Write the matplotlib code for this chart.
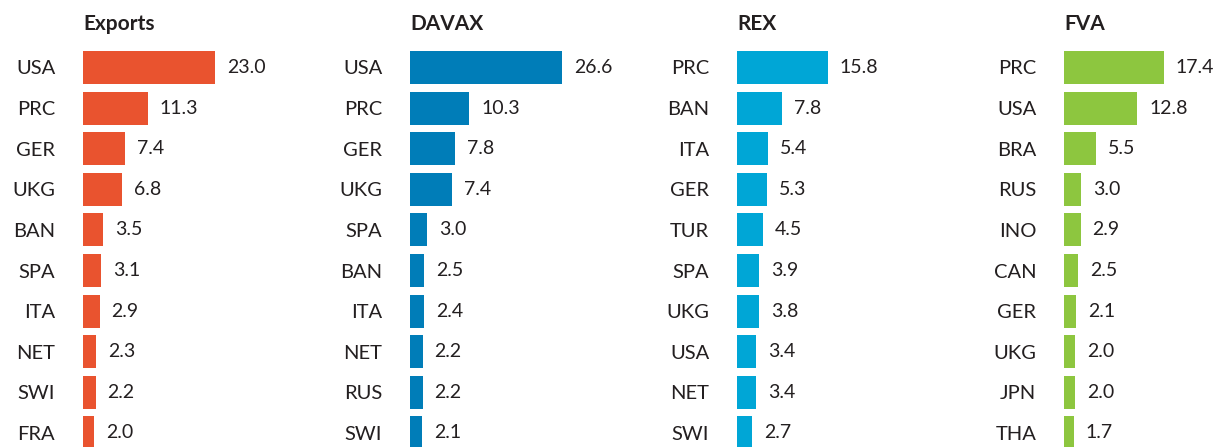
import matplotlib.pyplot as plt

plt.rcParams['font.family'] = ['Lato', 'DejaVu Sans']

titles = ['Exports', 'DAVAX', 'REX', 'FVA']

exports_cats = ['USA', 'PRC', 'GER', 'UKG', 'BAN', 'SPA', 'ITA', 'NET', 'SWI', 'FRA']
exports_vals = [23.0, 11.3, 7.4, 6.8, 3.5, 3.1, 2.9, 2.3, 2.2, 2.0]

davax_cats = ['USA', 'PRC', 'GER', 'UKG', 'SPA', 'BAN', 'ITA', 'NET', 'RUS', 'SWI']
davax_vals = [26.6, 10.3, 7.8, 7.4, 3.0, 2.5, 2.4, 2.2, 2.2, 2.1]

rex_cats = ['PRC', 'BAN', 'ITA', 'GER', 'TUR', 'SPA', 'UKG', 'USA', 'NET', 'SWI']
rex_vals = [15.8, 7.8, 5.4, 5.3, 4.5, 3.9, 3.8, 3.4, 3.4, 2.7]

fva_cats = ['PRC', 'USA', 'BRA', 'RUS', 'INO', 'CAN', 'GER', 'UKG', 'JPN', 'THA']
fva_vals = [17.4, 12.8, 5.5, 3.0, 2.9, 2.5, 2.1, 2.0, 2.0, 1.7]

colors = ['#E9532F', '#007DB8', '#00A6D6', '#8DC63F']
text_color = '#231F20'

W, H = 1222, 447
fig = plt.figure(figsize=(W / 100, H / 100), dpi=100)

panels = [(exports_cats, exports_vals), (davax_cats, davax_vals),
          (rex_cats, rex_vals), (fva_cats, fva_vals)]
bar_x0 = [83, 410, 737, 1064]   # pixel where bars start
px_per_unit = 5.73
ax_w = 240

for k, (cats, vals) in enumerate(panels):
    ax = fig.add_axes([bar_x0[k] / W, 0, ax_w / W, 1])
    ax.set_xlim(0, ax_w / px_per_unit)
    ax.set_ylim((H - 67.5) / 40.6, -67.5 / 40.6)
    ys = list(range(len(cats)))
    ax.barh(ys, vals, height=0.81, color=colors[k])
    for y, v in zip(ys, vals):
        ax.text(v + 12 / px_per_unit, y, f'{v:.1f}', va='center', ha='left',
                fontsize=14, color=text_color)
    ax.set_yticks(ys)
    ax.set_yticklabels(cats, fontsize=14.5, color=text_color)
    ax.tick_params(axis='y', length=0, pad=20)
    ax.set_xticks([])
    ax.text(0, -1.07, titles[k], fontsize=15, fontweight='bold', va='center',
            ha='left', color=text_color)
    for s in ax.spines.values():
        s.set_visible(False)
    ax.patch.set_alpha(0)

fig.savefig('out.png', dpi=100)
